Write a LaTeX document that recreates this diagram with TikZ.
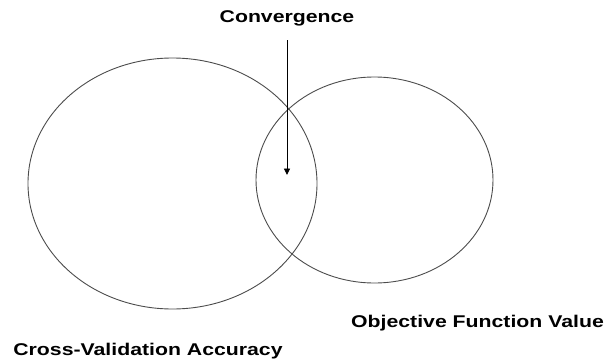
\documentclass[tikz,border=0pt]{standalone}
\usepackage{fontspec}
\usepackage{xcolor}
\usepackage{tikz}
\usetikzlibrary{shapes.geometric, arrows.meta, positioning}
\newfontfamily\lblfont{Liberation Sans}[FakeStretch=1.25]

\begin{document}
\begin{tikzpicture}[x=1pt, y=-1pt,
    setring/.style={ellipse, draw=black!70, line width=0.9pt, inner sep=0pt},
    caption/.style={anchor=base, inner sep=0pt, font=\lblfont\bfseries\fontsize{17}{20}\selectfont},
    arrow/.style={-{Triangle[length=6.5pt, width=6pt]}, line width=0.9pt}
]
\useasboundingbox (0,0) rectangle (608,359);
\node (cva) at (172.5,183.5) [setring, minimum width=289pt, minimum height=251pt] {};
\node (ofv) at (374.5,180) [setring, minimum width=237pt, minimum height=206pt] {};
\node (conv) at (287,22.5) [caption] {Convergence};
\node (ofvlbl) at (477.5,327) [caption] {Objective Function Value};
\node (cvalbl) at (148,355) [caption] {Cross-Validation Accuracy};
\coordinate (meet) at (287,175);
\draw[arrow, shorten <=14pt] (conv.south) -- (meet);
\end{tikzpicture}
\end{document}
